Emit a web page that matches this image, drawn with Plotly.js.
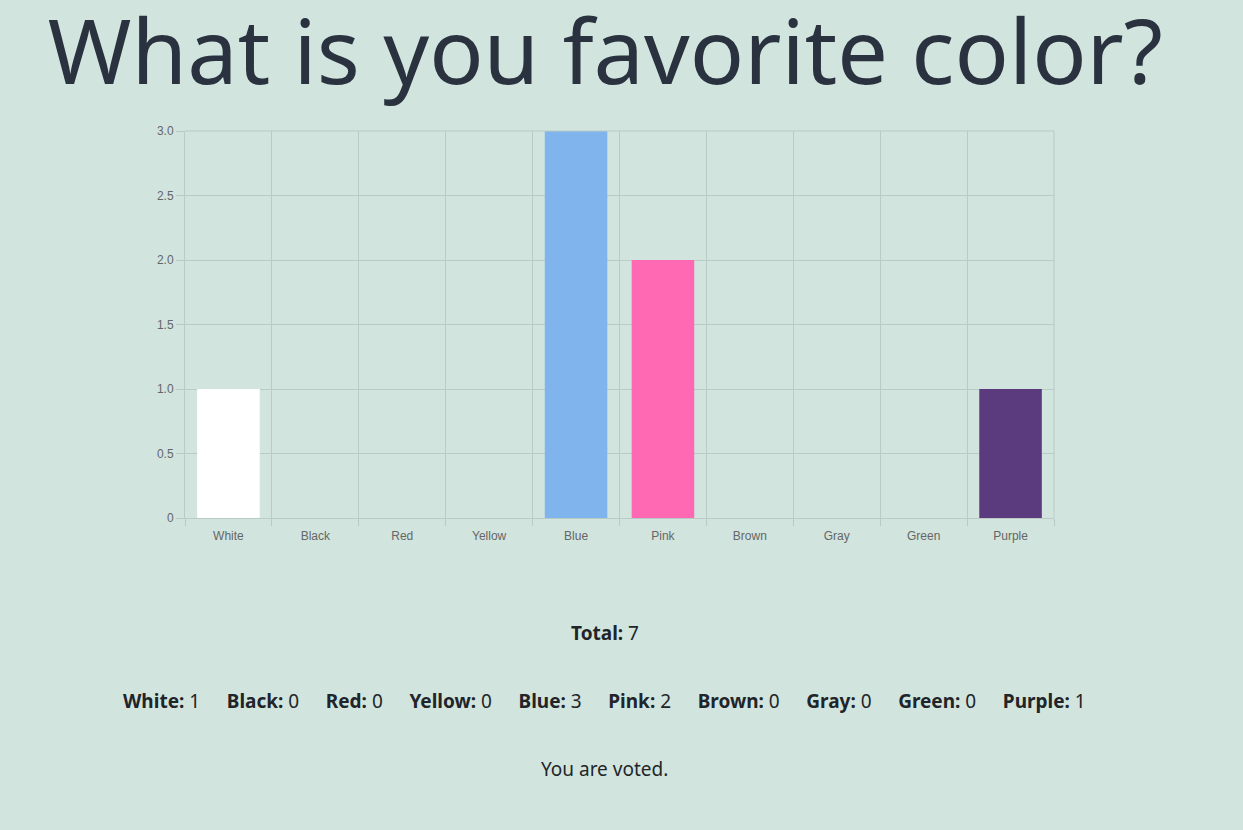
<!DOCTYPE html>
<html>
<head>
<meta charset="utf-8">
<script src="https://cdn.plot.ly/plotly-3.0.1.min.js"></script>
<style>
html,body{margin:0;padding:0;background:#d1e4de;}
#chart{width:1243px;height:830px;}
</style>
</head>
<body>
<div id="chart"></div>
<script>
const categories = ["White","Black","Red","Yellow","Blue","Pink","Brown","Gray","Green","Purple"];
const votes = [1,0,0,0,3,2,0,0,0,1];
const barColors = ["#ffffff","#000000","#ff0000","#ffff00","#80b4ec","#ff69b4","#8b4513","#808080","#008000","#5b3a7e"];
const yTickVals = [0,0.5,1,1.5,2,2.5,3];
const yTickText = ["0","0.5","1.0","1.5","2.0","2.5","3.0"];
const titleText = "What is you favorite color?";
const voteStatus = "You are voted.";

const total = votes.reduce((a,b)=>a+b,0);
const countsText = categories.map((c,i)=>"<b>"+c+":</b> "+votes[i]).join("\u00a0\u00a0\u00a0\u00a0\u00a0\u200a");

const textFont = "Segoe UI, 'Noto Sans', 'Open Sans', sans-serif";
const gridCol = "#bacbc5";

Plotly.newPlot("chart", [{
  type: "bar",
  x: categories,
  y: votes,
  marker: {color: barColors, line: {width: 0}},
  hoverinfo: "x+y"
}], {
  width: 1243, height: 830,
  paper_bgcolor: "#d1e4de",
  plot_bgcolor: "#d1e4de",
  margin: {l:185, r:189, t:131, b:312, pad:0},
  bargap: 0.28,
  showlegend: false,
  title: {
    text: titleText,
    font: {family: textFont, size: 90, color: "#29323e"},
    xref: "container", x: 0.487, xanchor: "center",
    yref: "container", y: 0.937, yanchor: "middle"
  },
  xaxis: {
    type: "category",
    tickson: "boundaries",
    showgrid: true, gridcolor: gridCol, gridwidth: 1,
    ticks: "outside", ticklen: 7, tickcolor: gridCol,
    ticklabelstandoff: 7,
    showline: true, linecolor: gridCol, linewidth: 1,
    mirror: false,
    tickfont: {family: "Arial, 'Liberation Sans', sans-serif", size: 12, color: "#666666"},
    fixedrange: true
  },
  yaxis: {
    range: [0,3],
    tickvals: yTickVals, ticktext: yTickText,
    showgrid: true, gridcolor: gridCol, gridwidth: 1,
    zeroline: false,
    ticks: "outside", ticklen: 8, tickcolor: gridCol,
    showline: true, linecolor: gridCol, linewidth: 1,
    tickfont: {family: "Arial, 'Liberation Sans', sans-serif", size: 12, color: "#666666"},
    fixedrange: true
  },
  shapes: [{
    type: "line", xref: "paper", yref: "paper", x0: 1, x1: 1, y0: 0, y1: 1,
    line: {color: gridCol, width: 1}
  },{
    type: "line", xref: "paper", yref: "paper", x0: 0, x1: 1, y0: 1, y1: 1,
    line: {color: gridCol, width: 1}
  }],
  annotations: [
    {xref:"paper", yref:"paper", x:0.4833, y:-0.297, xanchor:"center", yanchor:"middle", showarrow:false,
     text:"<b>Total:</b> "+total, font:{family:textFont, size:19, color:"#212529"}},
    {xref:"paper", yref:"paper", x:0.4833, y:-0.473, xanchor:"center", yanchor:"middle", showarrow:false,
     text: countsText, font:{family:textFont, size:19, color:"#212529"}},
    {xref:"paper", yref:"paper", x:0.4833, y:-0.649, xanchor:"center", yanchor:"middle", showarrow:false,
     text: voteStatus, font:{family:textFont, size:19, color:"#212529"}}
  ]
}, {displayModeBar: false, staticPlot: false});
</script>
</body>
</html>
